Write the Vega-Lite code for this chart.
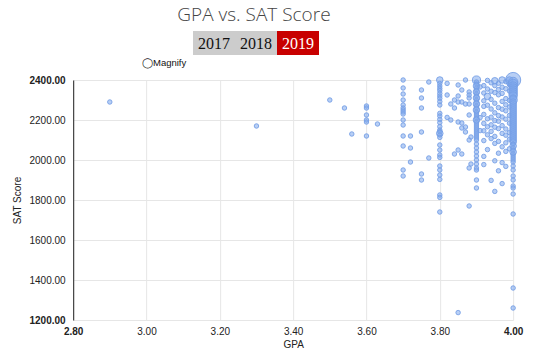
{
  "$schema": "https://vega.github.io/schema/vega-lite/v6.json",
  "padding": {"left": 12, "top": 6, "right": 5, "bottom": 5},
  "background": "white",
  "title": {"text": "GPA vs. SAT Score", "font": "Open Sans", "fontWeight": 300, "fontSize": 19, "color": "#444444", "anchor": "middle", "dx": -14, "offset": 6},
  "datasets": {
    "years": [
      {"year": "2017", "sel": "no"},
      {"year": "2018", "sel": "no"},
      {"year": "2019", "sel": "yes"}
    ],
    "pts": [
      {"gpa": 2.90, "sat": 2290, "n": 1}, {"gpa": 3.30, "sat": 2170, "n": 1}, {"gpa": 3.50, "sat": 2300, "n": 1}, {"gpa": 3.54, "sat": 2260, "n": 1}, {"gpa": 3.56, "sat": 2130, "n": 1},
      {"gpa": 3.60, "sat": 2270, "n": 1}, {"gpa": 3.60, "sat": 2260, "n": 1}, {"gpa": 3.60, "sat": 2225, "n": 1}, {"gpa": 3.60, "sat": 2200, "n": 1}, {"gpa": 3.60, "sat": 2190, "n": 1}, {"gpa": 3.60, "sat": 2120, "n": 1},
      {"gpa": 3.63, "sat": 2180, "n": 1},
      {"gpa": 3.70, "sat": 2400, "n": 1}, {"gpa": 3.70, "sat": 2360, "n": 1}, {"gpa": 3.70, "sat": 2330, "n": 1}, {"gpa": 3.70, "sat": 2300, "n": 1}, {"gpa": 3.70, "sat": 2275, "n": 1}, {"gpa": 3.70, "sat": 2260, "n": 1}, {"gpa": 3.70, "sat": 2250, "n": 1}, {"gpa": 3.70, "sat": 2240, "n": 1}, {"gpa": 3.70, "sat": 2230, "n": 1}, {"gpa": 3.70, "sat": 2200, "n": 1}, {"gpa": 3.70, "sat": 2175, "n": 1}, {"gpa": 3.70, "sat": 2120, "n": 1}, {"gpa": 3.70, "sat": 2070, "n": 1}, {"gpa": 3.70, "sat": 1950, "n": 1}, {"gpa": 3.70, "sat": 1920, "n": 1},
      {"gpa": 3.72, "sat": 2120, "n": 1}, {"gpa": 3.72, "sat": 2060, "n": 1}, {"gpa": 3.72, "sat": 1990, "n": 1},
      {"gpa": 3.75, "sat": 2350, "n": 1}, {"gpa": 3.75, "sat": 2310, "n": 1}, {"gpa": 3.75, "sat": 2260, "n": 1}, {"gpa": 3.75, "sat": 2140, "n": 1}, {"gpa": 3.75, "sat": 1930, "n": 1}, {"gpa": 3.75, "sat": 1900, "n": 1},
      {"gpa": 3.77, "sat": 2390, "n": 1}, {"gpa": 3.77, "sat": 2010, "n": 1},
      {"gpa": 3.80, "sat": 2400, "n": 2}, {"gpa": 3.80, "sat": 2383, "n": 1}, {"gpa": 3.80, "sat": 2370, "n": 1}, {"gpa": 3.80, "sat": 2358, "n": 1}, {"gpa": 3.80, "sat": 2347, "n": 1}, {"gpa": 3.80, "sat": 2333, "n": 1}, {"gpa": 3.80, "sat": 2320, "n": 1}, {"gpa": 3.80, "sat": 2308, "n": 1}, {"gpa": 3.80, "sat": 2292, "n": 1}, {"gpa": 3.80, "sat": 2275, "n": 1}, {"gpa": 3.80, "sat": 2233, "n": 1}, {"gpa": 3.80, "sat": 2220, "n": 1}, {"gpa": 3.80, "sat": 2203, "n": 1}, {"gpa": 3.80, "sat": 2187, "n": 1}, {"gpa": 3.80, "sat": 2167, "n": 1}, {"gpa": 3.80, "sat": 2150, "n": 1}, {"gpa": 3.80, "sat": 2142, "n": 1}, {"gpa": 3.80, "sat": 2133, "n": 2}, {"gpa": 3.80, "sat": 2125, "n": 1}, {"gpa": 3.80, "sat": 2113, "n": 1}, {"gpa": 3.80, "sat": 2075, "n": 1}, {"gpa": 3.80, "sat": 2050, "n": 1}, {"gpa": 3.80, "sat": 2025, "n": 1}, {"gpa": 3.80, "sat": 2013, "n": 1}, {"gpa": 3.80, "sat": 1970, "n": 1}, {"gpa": 3.80, "sat": 1950, "n": 1}, {"gpa": 3.80, "sat": 1925, "n": 1}, {"gpa": 3.80, "sat": 1903, "n": 1}, {"gpa": 3.80, "sat": 1825, "n": 1}, {"gpa": 3.80, "sat": 1813, "n": 1}, {"gpa": 3.80, "sat": 1740, "n": 1},
      {"gpa": 3.82, "sat": 2383, "n": 1}, {"gpa": 3.82, "sat": 2325, "n": 1}, {"gpa": 3.82, "sat": 2213, "n": 1},
      {"gpa": 3.83, "sat": 2200, "n": 1}, {"gpa": 3.83, "sat": 2280, "n": 1},
      {"gpa": 3.84, "sat": 2300, "n": 1}, {"gpa": 3.84, "sat": 2260, "n": 1}, {"gpa": 3.84, "sat": 2030, "n": 1},
      {"gpa": 3.85, "sat": 2375, "n": 1}, {"gpa": 3.85, "sat": 2320, "n": 1}, {"gpa": 3.85, "sat": 2290, "n": 1}, {"gpa": 3.85, "sat": 2190, "n": 1}, {"gpa": 3.85, "sat": 2050, "n": 1}, {"gpa": 3.85, "sat": 1237, "n": 1},
      {"gpa": 3.86, "sat": 2350, "n": 1}, {"gpa": 3.86, "sat": 2290, "n": 1}, {"gpa": 3.86, "sat": 2185, "n": 1}, {"gpa": 3.86, "sat": 2030, "n": 1}, {"gpa": 3.86, "sat": 2160, "n": 1},
      {"gpa": 3.87, "sat": 2165, "n": 1}, {"gpa": 3.87, "sat": 2140, "n": 1}, {"gpa": 3.87, "sat": 2280, "n": 1}, {"gpa": 3.87, "sat": 2400, "n": 1},
      {"gpa": 3.88, "sat": 2340, "n": 1}, {"gpa": 3.88, "sat": 2325, "n": 1}, {"gpa": 3.88, "sat": 2310, "n": 1}, {"gpa": 3.88, "sat": 2280, "n": 1}, {"gpa": 3.88, "sat": 2225, "n": 1}, {"gpa": 3.88, "sat": 2100, "n": 1}, {"gpa": 3.88, "sat": 1960, "n": 1}, {"gpa": 3.88, "sat": 1770, "n": 1},
      {"gpa": 3.885, "sat": 2115, "n": 1}, {"gpa": 3.885, "sat": 1980, "n": 1},
      {"gpa": 3.90, "sat": 2400, "n": 3}, {"gpa": 3.90, "sat": 2390, "n": 1}, {"gpa": 3.90, "sat": 2380, "n": 1}, {"gpa": 3.90, "sat": 2370, "n": 2}, {"gpa": 3.90, "sat": 2360, "n": 1}, {"gpa": 3.90, "sat": 2350, "n": 1}, {"gpa": 3.90, "sat": 2340, "n": 2}, {"gpa": 3.90, "sat": 2330, "n": 1}, {"gpa": 3.90, "sat": 2320, "n": 1}, {"gpa": 3.90, "sat": 2310, "n": 2}, {"gpa": 3.90, "sat": 2300, "n": 1}, {"gpa": 3.90, "sat": 2290, "n": 1}, {"gpa": 3.90, "sat": 2280, "n": 2}, {"gpa": 3.90, "sat": 2270, "n": 1}, {"gpa": 3.90, "sat": 2260, "n": 1}, {"gpa": 3.90, "sat": 2250, "n": 2}, {"gpa": 3.90, "sat": 2240, "n": 1}, {"gpa": 3.90, "sat": 2230, "n": 1}, {"gpa": 3.90, "sat": 2220, "n": 1}, {"gpa": 3.90, "sat": 2210, "n": 1}, {"gpa": 3.90, "sat": 2200, "n": 2}, {"gpa": 3.90, "sat": 2190, "n": 1}, {"gpa": 3.90, "sat": 2180, "n": 1}, {"gpa": 3.90, "sat": 2170, "n": 1}, {"gpa": 3.90, "sat": 2160, "n": 1}, {"gpa": 3.90, "sat": 2150, "n": 1}, {"gpa": 3.90, "sat": 2140, "n": 1}, {"gpa": 3.90, "sat": 2130, "n": 1}, {"gpa": 3.90, "sat": 2120, "n": 1}, {"gpa": 3.90, "sat": 2110, "n": 1}, {"gpa": 3.90, "sat": 2100, "n": 1}, {"gpa": 3.90, "sat": 2080, "n": 1}, {"gpa": 3.90, "sat": 2060, "n": 1}, {"gpa": 3.90, "sat": 2040, "n": 1}, {"gpa": 3.90, "sat": 2020, "n": 1}, {"gpa": 3.90, "sat": 2000, "n": 1}, {"gpa": 3.90, "sat": 1980, "n": 1}, {"gpa": 3.90, "sat": 1960, "n": 1}, {"gpa": 3.90, "sat": 1950, "n": 1}, {"gpa": 3.90, "sat": 1900, "n": 1}, {"gpa": 3.90, "sat": 1860, "n": 1},
      {"gpa": 3.91, "sat": 2212, "n": 1}, {"gpa": 3.91, "sat": 2147, "n": 1}, {"gpa": 3.91, "sat": 2365, "n": 1},
      {"gpa": 3.92, "sat": 2372, "n": 1}, {"gpa": 3.92, "sat": 2335, "n": 1}, {"gpa": 3.92, "sat": 2296, "n": 1}, {"gpa": 3.92, "sat": 2268, "n": 1}, {"gpa": 3.92, "sat": 2228, "n": 1}, {"gpa": 3.92, "sat": 2183, "n": 1}, {"gpa": 3.92, "sat": 2146, "n": 1}, {"gpa": 3.92, "sat": 2097, "n": 1}, {"gpa": 3.92, "sat": 2018, "n": 1}, {"gpa": 3.92, "sat": 1977, "n": 1},
      {"gpa": 3.93, "sat": 2398, "n": 1}, {"gpa": 3.93, "sat": 2355, "n": 1}, {"gpa": 3.93, "sat": 2318, "n": 2}, {"gpa": 3.93, "sat": 2274, "n": 1}, {"gpa": 3.93, "sat": 2206, "n": 1}, {"gpa": 3.93, "sat": 2166, "n": 1}, {"gpa": 3.93, "sat": 2126, "n": 1}, {"gpa": 3.93, "sat": 2052, "n": 1},
      {"gpa": 3.94, "sat": 2386, "n": 1}, {"gpa": 3.94, "sat": 2344, "n": 1}, {"gpa": 3.94, "sat": 2303, "n": 1}, {"gpa": 3.94, "sat": 2255, "n": 1}, {"gpa": 3.94, "sat": 2214, "n": 1}, {"gpa": 3.94, "sat": 2176, "n": 1}, {"gpa": 3.94, "sat": 2143, "n": 1}, {"gpa": 3.94, "sat": 2107, "n": 1}, {"gpa": 3.94, "sat": 1898, "n": 1},
      {"gpa": 3.95, "sat": 2396, "n": 2}, {"gpa": 3.95, "sat": 2372, "n": 1}, {"gpa": 3.95, "sat": 2337, "n": 1}, {"gpa": 3.95, "sat": 2284, "n": 1}, {"gpa": 3.95, "sat": 2236, "n": 1}, {"gpa": 3.95, "sat": 2197, "n": 1}, {"gpa": 3.95, "sat": 2164, "n": 1}, {"gpa": 3.95, "sat": 2118, "n": 1}, {"gpa": 3.95, "sat": 2083, "n": 1}, {"gpa": 3.95, "sat": 1996, "n": 1}, {"gpa": 3.95, "sat": 1843, "n": 1},
      {"gpa": 3.96, "sat": 2384, "n": 1}, {"gpa": 3.96, "sat": 2352, "n": 1}, {"gpa": 3.96, "sat": 2326, "n": 1}, {"gpa": 3.96, "sat": 2262, "n": 1}, {"gpa": 3.96, "sat": 2222, "n": 1}, {"gpa": 3.96, "sat": 2194, "n": 1}, {"gpa": 3.96, "sat": 2157, "n": 1}, {"gpa": 3.96, "sat": 2093, "n": 1}, {"gpa": 3.96, "sat": 2034, "n": 1}, {"gpa": 3.96, "sat": 1946, "n": 1},
      {"gpa": 3.97, "sat": 2400, "n": 2}, {"gpa": 3.97, "sat": 2364, "n": 1}, {"gpa": 3.97, "sat": 2333, "n": 1}, {"gpa": 3.97, "sat": 2293, "n": 1}, {"gpa": 3.97, "sat": 2254, "n": 1}, {"gpa": 3.97, "sat": 2215, "n": 1}, {"gpa": 3.97, "sat": 2172, "n": 1}, {"gpa": 3.97, "sat": 2133, "n": 1}, {"gpa": 3.97, "sat": 2066, "n": 1}, {"gpa": 3.97, "sat": 1987, "n": 1}, {"gpa": 3.97, "sat": 1882, "n": 1},
      {"gpa": 3.98, "sat": 2392, "n": 1}, {"gpa": 3.98, "sat": 2356, "n": 1}, {"gpa": 3.98, "sat": 2307, "n": 1}, {"gpa": 3.98, "sat": 2276, "n": 1}, {"gpa": 3.98, "sat": 2246, "n": 1}, {"gpa": 3.98, "sat": 2204, "n": 1}, {"gpa": 3.98, "sat": 2155, "n": 1}, {"gpa": 3.98, "sat": 2124, "n": 1}, {"gpa": 3.98, "sat": 2086, "n": 1}, {"gpa": 3.98, "sat": 2043, "n": 1}, {"gpa": 3.98, "sat": 1968, "n": 1},
      {"gpa": 3.99, "sat": 2400, "n": 2}, {"gpa": 3.99, "sat": 2377, "n": 1}, {"gpa": 3.99, "sat": 2345, "n": 1}, {"gpa": 3.99, "sat": 2298, "n": 1}, {"gpa": 3.99, "sat": 2265, "n": 1}, {"gpa": 3.99, "sat": 2223, "n": 1}, {"gpa": 3.99, "sat": 2184, "n": 1}, {"gpa": 3.99, "sat": 2137, "n": 1}, {"gpa": 3.99, "sat": 2104, "n": 1}, {"gpa": 3.99, "sat": 2056, "n": 1},
      {"gpa": 4.00, "sat": 2400, "n": 10}, {"gpa": 4.00, "sat": 2390, "n": 4}, {"gpa": 4.00, "sat": 2380, "n": 4}, {"gpa": 4.00, "sat": 2370, "n": 3}, {"gpa": 4.00, "sat": 2360, "n": 3}, {"gpa": 4.00, "sat": 2350, "n": 3}, {"gpa": 4.00, "sat": 2340, "n": 3}, {"gpa": 4.00, "sat": 2330, "n": 3}, {"gpa": 4.00, "sat": 2320, "n": 3}, {"gpa": 4.00, "sat": 2310, "n": 2}, {"gpa": 4.00, "sat": 2300, "n": 3}, {"gpa": 4.00, "sat": 2290, "n": 2}, {"gpa": 4.00, "sat": 2280, "n": 2}, {"gpa": 4.00, "sat": 2270, "n": 2}, {"gpa": 4.00, "sat": 2260, "n": 2}, {"gpa": 4.00, "sat": 2250, "n": 2}, {"gpa": 4.00, "sat": 2240, "n": 2}, {"gpa": 4.00, "sat": 2230, "n": 2}, {"gpa": 4.00, "sat": 2220, "n": 2}, {"gpa": 4.00, "sat": 2210, "n": 2}, {"gpa": 4.00, "sat": 2200, "n": 2}, {"gpa": 4.00, "sat": 2190, "n": 2}, {"gpa": 4.00, "sat": 2180, "n": 2}, {"gpa": 4.00, "sat": 2170, "n": 2}, {"gpa": 4.00, "sat": 2160, "n": 2}, {"gpa": 4.00, "sat": 2150, "n": 2}, {"gpa": 4.00, "sat": 2140, "n": 2}, {"gpa": 4.00, "sat": 2130, "n": 2}, {"gpa": 4.00, "sat": 2120, "n": 2}, {"gpa": 4.00, "sat": 2110, "n": 2}, {"gpa": 4.00, "sat": 2100, "n": 2}, {"gpa": 4.00, "sat": 2090, "n": 2}, {"gpa": 4.00, "sat": 2080, "n": 1}, {"gpa": 4.00, "sat": 2070, "n": 2}, {"gpa": 4.00, "sat": 2060, "n": 1}, {"gpa": 4.00, "sat": 2050, "n": 1}, {"gpa": 4.00, "sat": 2040, "n": 2}, {"gpa": 4.00, "sat": 2030, "n": 1}, {"gpa": 4.00, "sat": 2020, "n": 1}, {"gpa": 4.00, "sat": 2010, "n": 1}, {"gpa": 4.00, "sat": 2000, "n": 1}, {"gpa": 4.00, "sat": 1990, "n": 1}, {"gpa": 4.00, "sat": 1970, "n": 1}, {"gpa": 4.00, "sat": 1950, "n": 1}, {"gpa": 4.00, "sat": 1920, "n": 1}, {"gpa": 4.00, "sat": 1900, "n": 1}, {"gpa": 4.00, "sat": 1870, "n": 1}, {"gpa": 4.00, "sat": 1860, "n": 1}, {"gpa": 4.00, "sat": 1830, "n": 1}, {"gpa": 4.00, "sat": 1730, "n": 1}, {"gpa": 4.00, "sat": 1360, "n": 1}, {"gpa": 4.00, "sat": 1260, "n": 1}
    ]
  },
  "vconcat": [
    {
      "width": 210,
      "height": 24,
      "data": {"name": "years"},
      "view": {"stroke": null},
      "encoding": {
        "x": {"field": "year", "type": "nominal", "axis": null, "scale": {"paddingInner": 0, "paddingOuter": 1.25, "align": 0}}
      },
      "layer": [
        {
          "mark": {"type": "rect"},
          "encoding": {
            "color": {"field": "sel", "type": "nominal", "legend": null, "scale": {"domain": ["no", "yes"], "range": ["#cccccc", "#c80000"]}}
          }
        },
        {
          "mark": {"type": "text", "font": "Liberation Serif", "fontSize": 16, "baseline": "middle", "dy": 1},
          "encoding": {
            "text": {"field": "year"},
            "color": {"field": "sel", "type": "nominal", "legend": null, "scale": {"domain": ["no", "yes"], "range": ["#111111", "#ffffff"]}}
          }
        }
      ],
      "resolve": {"scale": {"color": "independent"}}
    },
    {
      "width": 440,
      "height": 240,
      "data": {"name": "pts"},
      "title": {"text": "◯Magnify", "font": "Liberation Sans", "fontSize": 9.5, "fontWeight": "normal", "color": "#111111", "anchor": "start", "dx": 129, "offset": 3},
      "view": {"stroke": null},
      "mark": {"type": "point", "filled": true, "clip": false, "fill": "#7ea8ec", "fillOpacity": 0.55, "stroke": "#77a0e6", "strokeOpacity": 0.9, "strokeWidth": 1},
      "encoding": {
        "x": {
          "field": "gpa", "type": "quantitative", "title": "GPA",
          "scale": {"domain": [2.8, 4.0], "nice": false, "zero": false},
          "axis": {
            "values": [2.8, 3.0, 3.2, 3.4, 3.6, 3.8, 4.0], "format": ".2f",
            "domain": false, "ticks": false, "labelPadding": 6,
            "labelFont": "Liberation Sans", "labelFontSize": 10, "labelColor": "#222222",
            "labelFontWeight": {"condition": {"test": "datum.value < 2.85 || datum.value > 3.95", "value": "bold"}, "value": "normal"},
            "titleFont": "Liberation Sans", "titleFontSize": 10, "titleFontWeight": "normal", "titleColor": "#222222", "titlePadding": 3,
            "gridColor": "#e6e6e6", "labelFlush": false
          }
        },
        "y": {
          "field": "sat", "type": "quantitative", "title": "SAT Score",
          "scale": {"domain": [1200, 2400], "nice": false, "zero": false},
          "axis": {
            "values": [1200, 1400, 1600, 1800, 2000, 2200, 2400], "format": ".2f",
            "domain": true, "domainColor": "#444444", "domainWidth": 1.2, "ticks": false, "labelPadding": 8,
            "labelFont": "Liberation Sans", "labelFontSize": 10, "labelColor": "#222222",
            "labelFontWeight": {"condition": {"test": "datum.value == 1200 || datum.value == 2400", "value": "bold"}, "value": "normal"},
            "titleFont": "Liberation Sans", "titleFontSize": 10, "titleFontWeight": "normal", "titleColor": "#222222", "titlePadding": 6,
            "gridColor": "#e6e6e6"
          }
        },
        "size": {"field": "n", "type": "quantitative", "legend": null, "scale": {"type": "linear", "domain": [1, 10], "range": [20, 230], "zero": false}}
      }
    }
  ],
  "spacing": 2,
  "center": true,
  "config": {"view": {"stroke": null}}
}
